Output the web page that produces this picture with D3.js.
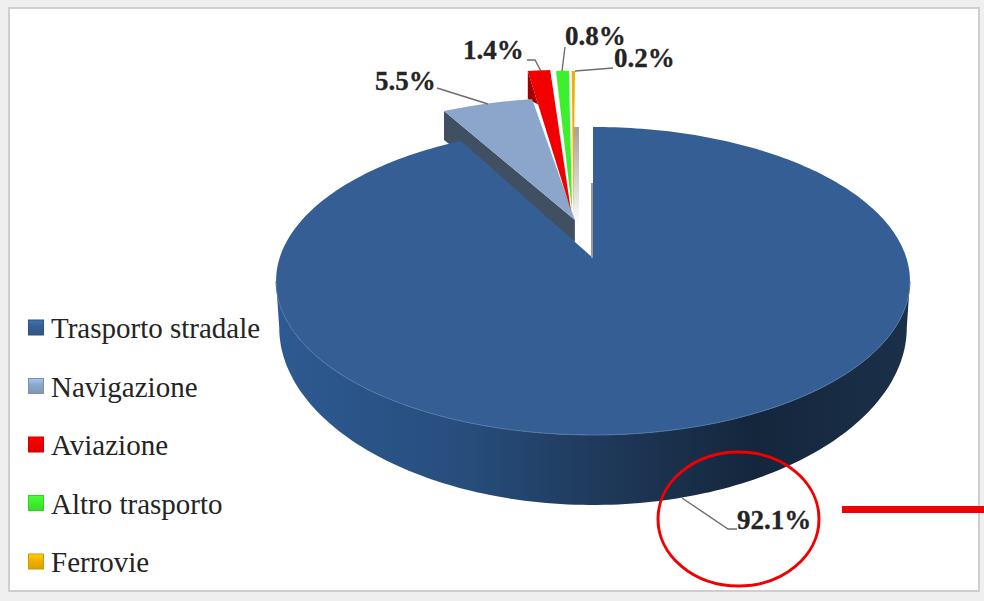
<!DOCTYPE html>
<html>
<head>
<meta charset="utf-8">
<script src="https://cdn.jsdelivr.net/npm/d3@7"></script>
<style>
  html, body { margin: 0; padding: 0; background: #efefef; }
  svg { display: block; }
  text { font-family: "Liberation Serif", serif; fill: #242424; }
</style>
</head>
<body>
<svg id="chart" width="984" height="601"></svg>
<script>
// Energy consumption shares in transport
const categories = ["Trasporto stradale", "Navigazione", "Aviazione", "Altro trasporto", "Ferrovie"];
const shares = [92.1, 5.5, 1.4, 0.8, 0.2];
const shareLabels = ["92.1%", "5.5%", "1.4%", "0.8%", "0.2%"];
const faceColors = ["#355f94", "#8ba6ca", "#f20000", "#3df02c", "#f0b000"];
const wallColors = ["#234a78", "#414f62", "#a00000", "#1f8a18", "#b08000"];

const svg = d3.select("#chart");
const defs = svg.append("defs");

// Perspective mapping of the pie's unit disc on to the page
const cx = 593, cy = 258, A = 313.4, B = 150.6, k = 0.149;
const perspective = (u, v) => {
  const w = 1 + k * v;
  return [cx + A * u / w, cy - B * v / w];
};
// Rim height grows towards the viewer
const rimDepth = v => 70 * Math.pow(0.851 / (1 + k * v), 2.9);
const pointAt = (a, off) => perspective(off[0] + Math.sin(a), off[1] + Math.cos(a));
const path = d3.line();

const slices = d3.pie().sort(null).startAngle(0).endAngle(2 * Math.PI)(shares);

// Exploded slices: arc offset on the disc and the tip the edges converge to
const explode = [
  { off: [0, 0], tip: [0, 0] },
  { off: [-0.08, 0.262], tip: [-0.06, 0.262] },
  { off: [-0.105, 0.535], tip: [-0.0737, 0.33] },
  { off: [-0.082, 0.526], tip: [-0.07, 0.33] },
  { off: [-0.0706, 0.524], tip: [-0.066, 0.32] }
];

const arcAngles = (a0, a1) => {
  const n = Math.max(2, Math.ceil((a1 - a0) / 0.02));
  return d3.range(n + 1).map(i => a0 + (a1 - a0) * i / n);
};
const slicePoints = i => {
  const s = slices[i], e = explode[i];
  return [perspective(e.tip[0], e.tip[1])]
    .concat(arcAngles(s.startAngle, s.endAngle).map(a => pointAt(a, e.off)));
};

// Page frame
svg.append("rect").attr("x", 9).attr("y", 8).attr("width", 970).attr("height", 583)
  .attr("fill", "#fff").attr("stroke", "#cfcfcf").attr("stroke-width", 2);

// Grey shading in the gap beside the large slice
const gap = defs.append("linearGradient").attr("id", "gapShade")
  .attr("x1", 0).attr("y1", 0).attr("x2", 0).attr("y2", 1);
gap.append("stop").attr("offset", 0).attr("stop-color", "#a8a294");
gap.append("stop").attr("offset", 1).attr("stop-color", "#ffffff");
svg.append("rect").attr("x", 573).attr("y", 127).attr("width", 6).attr("height", 100)
  .attr("fill", "url(#gapShade)");

// Short visible part of the Aviazione side wall
{
  const pts = slicePoints(2);
  const left = pts[1], tip = pts[0];
  const t = 0.24;
  const wall = [left, [left[0], left[1] + 28],
    [left[0] + (tip[0] - left[0]) * t, left[1] + (tip[1] - left[1]) * t]];
  svg.append("path").attr("d", path(wall) + "Z").attr("fill", wallColors[2]);
}

// Navigazione: side wall, then face
{
  const pts = slicePoints(1);
  const left = pts[1], tip = pts[0];
  const wall = [left, [left[0], left[1] + 29], [tip[0], tip[1] + 22], tip];
  svg.append("path").attr("d", path(wall) + "Z").attr("fill", wallColors[1]);
  svg.append("path").attr("d", path(pts) + "Z").attr("fill", faceColors[1]);
}

// Faces of the narrow slices
[2, 3, 4].forEach(i => {
  svg.append("path").attr("d", path(slicePoints(i)) + "Z").attr("fill", faceColors[i]);
});

// Front rim of the large slice
const rimGradient = defs.append("linearGradient").attr("id", "rimShade")
  .attr("gradientUnits", "userSpaceOnUse")
  .attr("x1", 277).attr("y1", 0).attr("x2", 911).attr("y2", 0);
[[0, "#2d5a92"], [0.3, "#274d7c"], [0.5, "#1f3a5c"], [0.75, "#14263c"], [1, "#1b3049"]]
  .forEach(([o, c]) => rimGradient.append("stop").attr("offset", o).attr("stop-color", c));

const rimStart = Math.acos(-k), rimEnd = 2 * Math.PI - rimStart;
const rimAngles = arcAngles(rimStart, rimEnd);
const rimTop = rimAngles.map(a => pointAt(a, [0, 0]));
const rimBottom = rimAngles.map(a => {
  const [x, y] = pointAt(a, [0, 0]);
  return [cx + (x - cx) * 0.99, y + rimDepth(Math.cos(a))];
}).reverse();
svg.append("path").attr("d", path(rimTop.concat(rimBottom)) + "Z").attr("fill", "url(#rimShade)");

// Face of the large slice, with a pale highlight on its front edge
svg.append("path").attr("d", path(slicePoints(0)) + "Z").attr("fill", faceColors[0]);
svg.append("path").attr("d", path(rimTop)).attr("fill", "none")
  .attr("stroke", "#4f77a8").attr("stroke-width", 1);
svg.append("line").attr("x1", 592).attr("x2", 592).attr("y1", 183).attr("y2", 258)
  .attr("stroke", "#9a9a92").attr("stroke-width", 2);

// Leader lines and value labels
const leaders = [
  [[682, 498], [728, 529], [737, 529]],
  [[437, 88], [488, 104]],
  [[527, 60], [535, 60], [541, 71]],
  [[565, 47], [562, 71]],
  [[613, 68], [575, 71]]
];
const labelAnchors = [[737, 529], [375, 90], [463, 59], [565, 45], [614, 67]];
leaders.forEach(l => svg.append("path").attr("d", path(l)).attr("fill", "none")
  .attr("stroke", "#6e6e6e").attr("stroke-width", 1.4));
svg.selectAll("text.value").data(shareLabels).join("text").attr("class", "value")
  .attr("x", (d, i) => labelAnchors[i][0]).attr("y", (d, i) => labelAnchors[i][1])
  .attr("font-size", 27).attr("font-weight", "bold")
  .attr("stroke", "#242424").attr("stroke-width", 0.3).text(d => d);

// Legend swatches carry a soft top-to-bottom bevel
faceColors.forEach((c, i) => {
  const g = defs.append("linearGradient").attr("id", `swatch${i}`)
    .attr("x1", 0).attr("y1", 0).attr("x2", 0).attr("y2", 1);
  g.append("stop").attr("offset", 0).attr("stop-color", d3.color(c).brighter(0.5));
  g.append("stop").attr("offset", 0.45).attr("stop-color", c);
  g.append("stop").attr("offset", 1).attr("stop-color", d3.color(c).darker(0.25));
});
const legendY = d3.scalePoint().domain(categories).range([328, 562]);
const legend = svg.selectAll("g.legend").data(categories).join("g").attr("class", "legend")
  .attr("transform", d => `translate(28,${legendY(d)})`);
legend.append("rect").attr("x", 0.5).attr("y", -8).attr("width", 15).attr("height", 15)
  .attr("fill", (d, i) => `url(#swatch${i})`)
  .attr("stroke", (d, i) => d3.color(faceColors[i]).darker(0.4)).attr("stroke-width", 1);
legend.append("text").attr("x", 23).attr("y", 10).attr("font-size", 29).text(d => d);

// Red callout around the road transport share
svg.append("ellipse").attr("cx", 738.5).attr("cy", 519).attr("rx", 80.5).attr("ry", 67)
  .attr("fill", "none").attr("stroke", "#f00000").attr("stroke-width", 3);
svg.append("rect").attr("x", 842).attr("y", 506).attr("width", 142).attr("height", 7).attr("fill", "#f00000");
</script>
</body>
</html>
